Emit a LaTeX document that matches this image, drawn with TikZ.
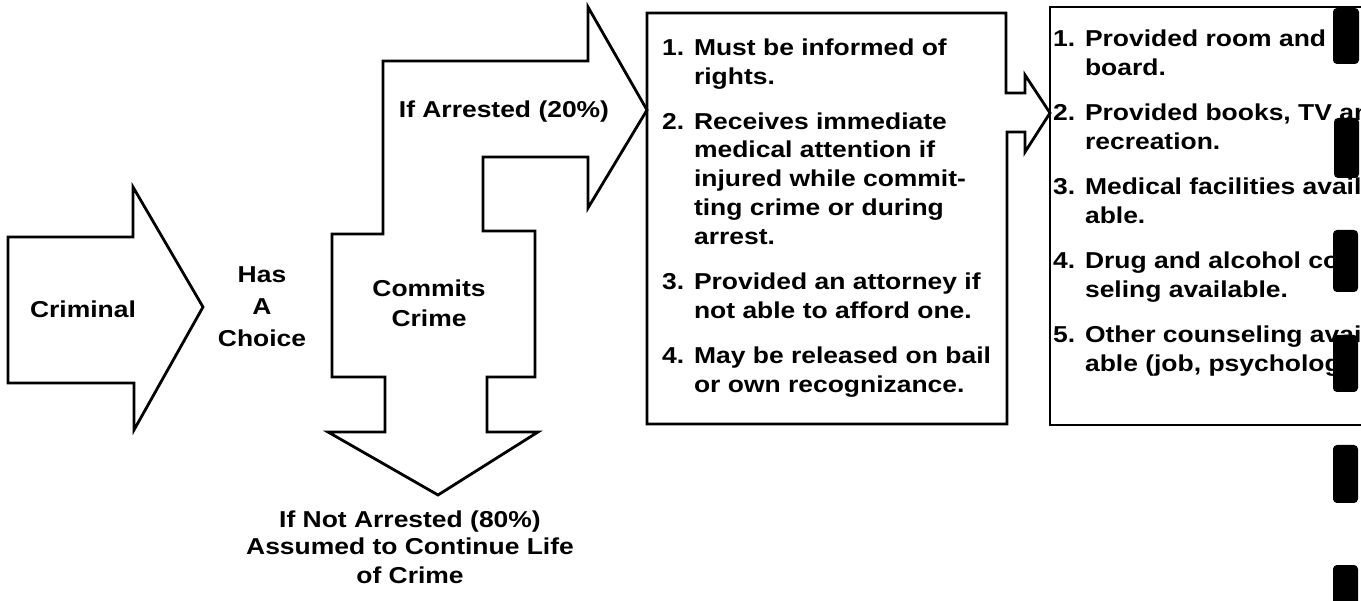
\documentclass[tikz,border=0pt]{standalone}
\usepackage{fontspec}
\setmainfont{Liberation Sans}[FakeStretch=1.15]
\begin{document}
\begin{tikzpicture}[x=1pt,y=-1pt]
\tikzset{
  outline/.style={draw=black, line width=2.8pt, line join=miter},
  lbl/.style={font=\fontsize{23}{30}\selectfont\bfseries, align=center, inner sep=0pt, anchor=base},
  listtext/.style={font=\fontsize{23}{29}\selectfont\bfseries, align=left, inner sep=0pt, anchor=base west},
  bar/.style={fill=black, rounded corners=4pt}
}
\useasboundingbox (0,0) rectangle (1361,601);
\fill[white] (0,0) rectangle (1361,601);
\clip (0,0) rectangle (1361,601);

% Criminal arrow
\draw[outline] (8,237) -- (133,237) -- (133,187) -- (203,307) -- (134,430) -- (134,383) -- (8,383) -- cycle;
\node[lbl] (criminal) at (83,318) {Criminal};

% Has a choice (base = last line)
\node[lbl, font=\fontsize{23}{32}\selectfont\bfseries] (choice) at (262,347) {Has\\A\\Choice};

% Commits crime block with up-right and down arrows
\draw[outline] (332,377) -- (332,234) -- (383,234) -- (383,61) -- (588,61) -- (588,7)
  -- (647,110) -- (588,208) -- (588,157) -- (483,157) -- (483,231) -- (535,231)
  -- (535,377) -- (487,377) -- (487,432) -- (538,432) -- (438,495) -- (328,432)
  -- (385,432) -- (385,377) -- cycle;
\node[lbl] (commits) at (429,327) {Commits\\Crime};
\node[lbl] (arrested) at (504,118) {If Arrested (20\%)};
\node[lbl, font=\fontsize{23}{28}\selectfont\bfseries] (notarrested) at (410,583)
  {If Not Arrested (80\%)\\Assumed to Continue Life\\of Crime};

% First box with connector arrow to second box
\draw[outline] (1006,93) -- (1025,93) -- (1025,75) -- (1050,113) -- (1025,152) -- (1025,132)
  -- (1007,132) -- (1007,424) -- (647,424) -- (647,13) -- (1006,13) -- cycle;
\node[listtext] (rights) at (662,393) {1. Must be informed of\\
\phantom{1. }rights.\\[16pt]
2. Receives immediate\\
\phantom{2. }medical attention if\\
\phantom{2. }injured while commit-\\
\phantom{2. }ting crime or during\\
\phantom{2. }arrest.\\[16pt]
3. Provided an attorney if\\
\phantom{3. }not able to afford one.\\[16pt]
4. May be released on bail\\
\phantom{4. }or own recognizance.};

% Second box (cut off at right edge)
\draw[outline] (1370,7) -- (1050,7) -- (1050,425) -- (1370,425);
\node[listtext] (prison) at (1053,372) {1. Provided room and\\
\phantom{1. }board.\\[16pt]
2. Provided books, TV an\\
\phantom{2. }recreation.\\[16pt]
3. Medical facilities avail-\\
\phantom{3. }able.\\[16pt]
4. Drug and alcohol co\\
\phantom{4. }seling available.\\[16pt]
5. Other counseling avai\\
\phantom{5. }able (job, psycholog};

% Black marks at right margin
\fill[bar] (1333,8) rectangle (1359,64);
\fill[bar] (1334,118) rectangle (1359,178);
\fill[bar] (1333,230) rectangle (1358,292);
\fill[bar] (1333,335) rectangle (1358,392);
\fill[bar] (1333,445) rectangle (1358,503);
\fill[bar] (1333,565) rectangle (1358,610);
\end{tikzpicture}
\end{document}
